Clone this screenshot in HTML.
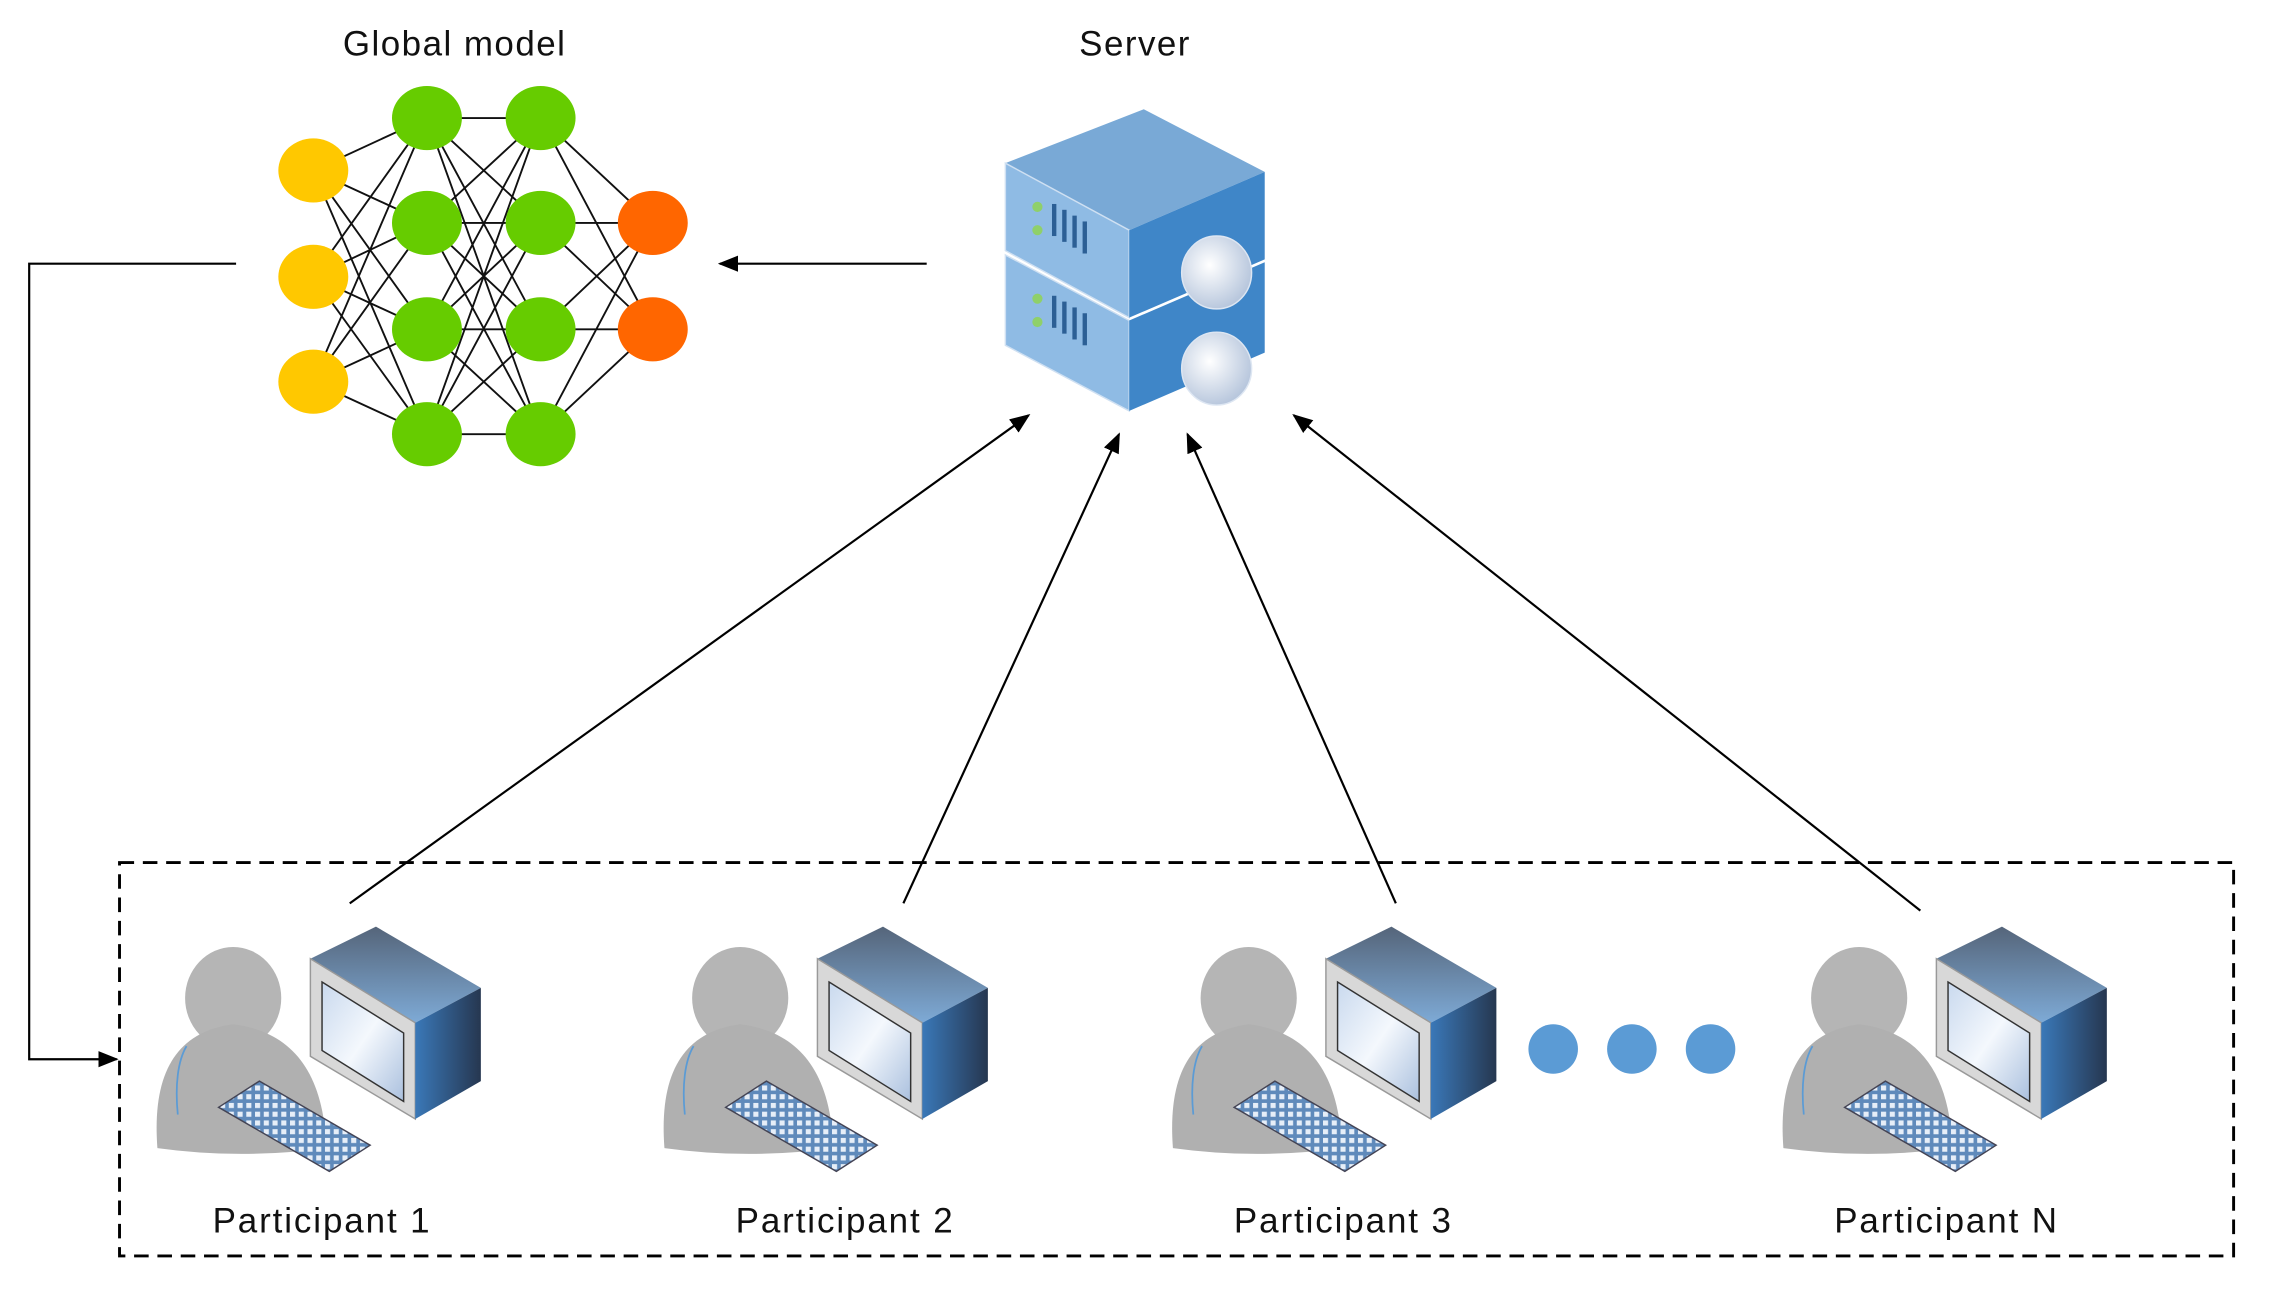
<!DOCTYPE html>
<html><head><meta charset="utf-8"><style>
html,body{margin:0;padding:0;background:#fff;}
svg{display:block;}
text{font-family:"Liberation Sans",sans-serif;fill:#111;}
</style></head><body>
<svg width="2273" height="1304" viewBox="0 0 1560 895" xmlns="http://www.w3.org/2000/svg">
<defs>
<marker id="ah2" viewBox="0 0 10 10" refX="9" refY="5" markerWidth="14" markerHeight="14" orient="auto" markerUnits="userSpaceOnUse">
<path d="M0,1 L10,5 L0,9 z" fill="#000"/></marker>
<linearGradient id="scr" x1="0" y1="0" x2="1" y2="1"><stop offset="0" stop-color="#c9d9ee"/><stop offset="0.5" stop-color="#f4f8fd"/><stop offset="1" stop-color="#aac0de"/></linearGradient>
<linearGradient id="ctop" x1="0" y1="0" x2="0" y2="1"><stop offset="0" stop-color="#55657a"/><stop offset="1" stop-color="#7eaad6"/></linearGradient>
<linearGradient id="cside" x1="0" y1="0" x2="1" y2="0"><stop offset="0" stop-color="#3a78b8"/><stop offset="1" stop-color="#263750"/></linearGradient>
<radialGradient id="glb" cx="0.4" cy="0.4" r="0.7"><stop offset="0" stop-color="#ffffff"/><stop offset="1" stop-color="#aebfd8"/></radialGradient>
<pattern id="keys" width="6" height="6" patternUnits="userSpaceOnUse"><rect width="6" height="6" fill="#5f8abb"/><rect x="1" y="1" width="3.5" height="3.5" fill="#e6eef8"/></pattern>
<g id="part">
  <ellipse cx="160" cy="685" rx="33" ry="35" fill="#b5b5b5"/>
  <path d="M108,788 C104,735 122,708 160,703 C200,708 222,735 224,788 Q166,796 108,788 Z" fill="#b0b0b0"/>
  <path d="M122,765 C120,745 122,728 128,718" stroke="#5b9bd5" stroke-width="1.2" fill="none"/>
  <polygon points="213,658 258,636 330,678 285,702" fill="url(#ctop)"/>
  <polygon points="213,658 285,702 285,768 213,725" fill="#d8d8d8" stroke="#999" stroke-width="1"/>
  <polygon points="285,702 330,678 330,742 285,768" fill="url(#cside)"/>
  <polygon points="221,674 277,709 277,756 221,721" fill="url(#scr)" stroke="#333" stroke-width="1"/>
  <polygon points="150,760 178,742 254,786 226,804" fill="url(#keys)" stroke="#445" stroke-width="1"/>
</g>
</defs>

<text x="312" y="38" font-size="24" letter-spacing="1" text-anchor="middle">Global model</text>
<text x="779" y="38" font-size="24" letter-spacing="1" text-anchor="middle">Server</text>

<g stroke="#111" stroke-width="1.3">
<path d="M215,117 L293,81 M215,117 L293,153 M215,117 L293,226 M215,117 L293,298 M215,190 L293,81 M215,190 L293,153 M215,190 L293,226 M215,190 L293,298 M215,262 L293,81 M215,262 L293,153 M215,262 L293,226 M215,262 L293,298"/>
<path d="M293,81 L371,81 M293,81 L371,153 M293,81 L371,226 M293,81 L371,298 M293,153 L371,81 M293,153 L371,153 M293,153 L371,226 M293,153 L371,298 M293,226 L371,81 M293,226 L371,153 M293,226 L371,226 M293,226 L371,298 M293,298 L371,81 M293,298 L371,153 M293,298 L371,226 M293,298 L371,298"/>
<path d="M371,81 L448,153 M371,81 L448,226 M371,153 L448,153 M371,153 L448,226 M371,226 L448,153 M371,226 L448,226 M371,298 L448,153 M371,298 L448,226"/>
</g>
<g>
<ellipse cx="215" cy="117" rx="24" ry="22" fill="#ffc800"/>
<ellipse cx="215" cy="190" rx="24" ry="22" fill="#ffc800"/>
<ellipse cx="215" cy="262" rx="24" ry="22" fill="#ffc800"/>
<ellipse cx="293" cy="81" rx="24" ry="22" fill="#66cc00"/>
<ellipse cx="293" cy="153" rx="24" ry="22" fill="#66cc00"/>
<ellipse cx="293" cy="226" rx="24" ry="22" fill="#66cc00"/>
<ellipse cx="293" cy="298" rx="24" ry="22" fill="#66cc00"/>
<ellipse cx="371" cy="81" rx="24" ry="22" fill="#66cc00"/>
<ellipse cx="371" cy="153" rx="24" ry="22" fill="#66cc00"/>
<ellipse cx="371" cy="226" rx="24" ry="22" fill="#66cc00"/>
<ellipse cx="371" cy="298" rx="24" ry="22" fill="#66cc00"/>
<ellipse cx="448" cy="153" rx="24" ry="22" fill="#ff6600"/>
<ellipse cx="448" cy="226" rx="24" ry="22" fill="#ff6600"/>
</g>

<g>
<polygon points="690,175 775,220 775,282 690,237" fill="#8fbbe4" stroke="#cfe0f2"/>
<polygon points="775,220 868,180 868,242 775,282" fill="#3f86c8"/>
<polygon points="690,112 785,75 868,118 775,158" fill="#79a9d6"/>
<polygon points="690,112 775,158 775,218 690,172" fill="#8fbbe4" stroke="#cfe0f2"/>
<polygon points="775,158 868,118 868,178 775,218" fill="#3f86c8"/>
<g fill="#2c5f95">
<rect x="722" y="140" width="3" height="22"/><rect x="729" y="144" width="3" height="22"/><rect x="736" y="148" width="3" height="22"/><rect x="743" y="152" width="3" height="22"/>
<rect x="722" y="203" width="3" height="22"/><rect x="729" y="207" width="3" height="22"/><rect x="736" y="211" width="3" height="22"/><rect x="743" y="215" width="3" height="22"/>
</g>
<circle cx="712" cy="142" r="3.5" fill="#8fd06a"/><circle cx="712" cy="158" r="3.5" fill="#8fd06a"/>
<circle cx="712" cy="205" r="3.5" fill="#8fd06a"/><circle cx="712" cy="221" r="3.5" fill="#8fd06a"/>
<ellipse cx="835" cy="187" rx="24" ry="25" fill="url(#glb)" stroke="#dde6f2"/>
<ellipse cx="835" cy="253" rx="24" ry="25" fill="url(#glb)" stroke="#dde6f2"/>
</g>

<g stroke="#000" stroke-width="1.5" fill="none">
<line x1="636" y1="181" x2="494" y2="181" marker-end="url(#ah2)"/>
<polyline points="162,181 20,181 20,727 80,727" marker-end="url(#ah2)"/>
<line x1="240" y1="620" x2="706" y2="285" marker-end="url(#ah2)"/>
<line x1="620" y1="620" x2="768" y2="298" marker-end="url(#ah2)"/>
<line x1="958" y1="620" x2="815" y2="298" marker-end="url(#ah2)"/>
<line x1="1318" y1="625" x2="888" y2="285" marker-end="url(#ah2)"/>
</g>
<rect x="82" y="592" width="1451" height="270" fill="none" stroke="#000" stroke-width="2" stroke-dasharray="10,6"/>

<use href="#part"/>
<use href="#part" x="348"/>
<use href="#part" x="697"/>
<use href="#part" x="1116"/>

<circle cx="1066" cy="720" r="17" fill="#5b9bd5"/>
<circle cx="1120" cy="720" r="17" fill="#5b9bd5"/>
<circle cx="1174" cy="720" r="17" fill="#5b9bd5"/>

<g font-size="24" letter-spacing="1.3" text-anchor="middle">
<text x="221" y="846">Participant 1</text>
<text x="580" y="846">Participant 2</text>
<text x="922" y="846">Participant 3</text>
<text x="1336" y="846">Participant N</text>
</g>
</svg>
</body></html>
